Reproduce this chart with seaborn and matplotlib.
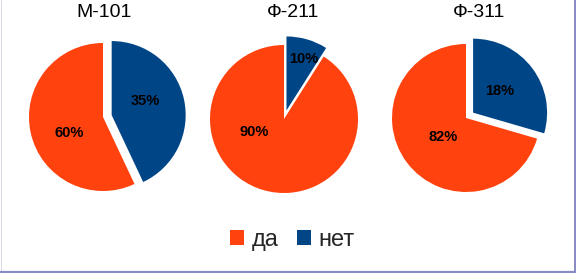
import numpy as np
import matplotlib
matplotlib.use("Agg")
import matplotlib.pyplot as plt
from matplotlib.lines import Line2D
import seaborn as sns

# ---- data ----
groups = ["М-101", "Ф-211", "Ф-311"]
categories = ["нет", "да"]            # drawn clockwise from 12 o'clock
shares_net = [43, 9, 29.5]            # slice sizes as drawn
shares_da = [57, 91, 70.5]
labels_net = ["35%", "10%", "18%"]    # printed labels
labels_da = ["60%", "90%", "82%"]
legend_order = ["да", "нет"]

# ---- style ----
sns.set_theme(style="white")
plt.rcParams["font.family"] = ["Liberation Sans", "DejaVu Sans"]
colors = {"да": "#ff420e", "нет": "#004586"}

W, H = 576, 273
fig = plt.figure(figsize=(W / 100, H / 100), dpi=100)
fig.patch.set_facecolor("white")

centers_px = [(103, 117), (284, 119), (466, 118)]
radius_px = 74
title_px = [(104, 17), (293, 17), (479, 17)]
# label placement (radius units, relative to pie centre): (нет, да)
label_pos = [((0.57, 0.24), (-0.46, -0.19)),
             ((0.27, 0.83), (-0.40, -0.15)),
             ((0.45, 0.38), (-0.31, -0.24))]
lim = 1.3

first_wedges = None
for i, g in enumerate(groups):
    cx, cy = centers_px[i]
    half = lim * radius_px
    ax = fig.add_axes([(cx - half) / W, (H - cy - half) / H, 2 * half / W, 2 * half / H])
    vals = [shares_net[i], shares_da[i]]
    wedges, texts, autotexts = ax.pie(
        vals, colors=[colors[c] for c in categories], startangle=90,
        counterclock=False, explode=[0.12, 0.0], radius=1,
        autopct="%1.0f%%", wedgeprops=dict(linewidth=0),
        textprops=dict(fontsize=10.5, fontweight="bold", color="black"))
    lbls = [labels_net[i], labels_da[i]]
    for t, lab, pos in zip(autotexts, lbls, label_pos[i]):
        t.set_position(pos)
        t.set_text(lab)
        t.set_ha("center"); t.set_va("center_baseline")
    ax.set_xlim(-lim, lim)
    ax.set_ylim(-lim, lim)
    ax.set_aspect("equal")
    ax.axis("off")
    if first_wedges is None:
        first_wedges = wedges
    tx, ty = title_px[i]
    fig.text(tx / W, (H - ty) / H, g, ha="center", va="baseline", fontsize=14, color="black")

handles = [first_wedges[categories.index(c)] for c in legend_order]
leg = fig.legend(handles, legend_order, loc="center", bbox_to_anchor=(292.5 / W, (H - 240) / H),
                 ncol=2, frameon=False, fontsize=17, handlelength=0.6, handleheight=0.6,
                 handletextpad=0.3, columnspacing=0.8)

# frame lines
fig.add_artist(Line2D([0.5 / W, 0.5 / W], [0, 1], transform=fig.transFigure, color="#d8d8ee", lw=0.72))
fig.add_artist(Line2D([574.5 / W, 574.5 / W], [0, 1], transform=fig.transFigure, color="#8a8ac6", lw=1.44))
fig.add_artist(Line2D([0, 1], [1.5 / H, 1.5 / H], transform=fig.transFigure, color="#8a8ac6", lw=1.6))

fig.savefig("out.png", dpi=100, facecolor="white")
